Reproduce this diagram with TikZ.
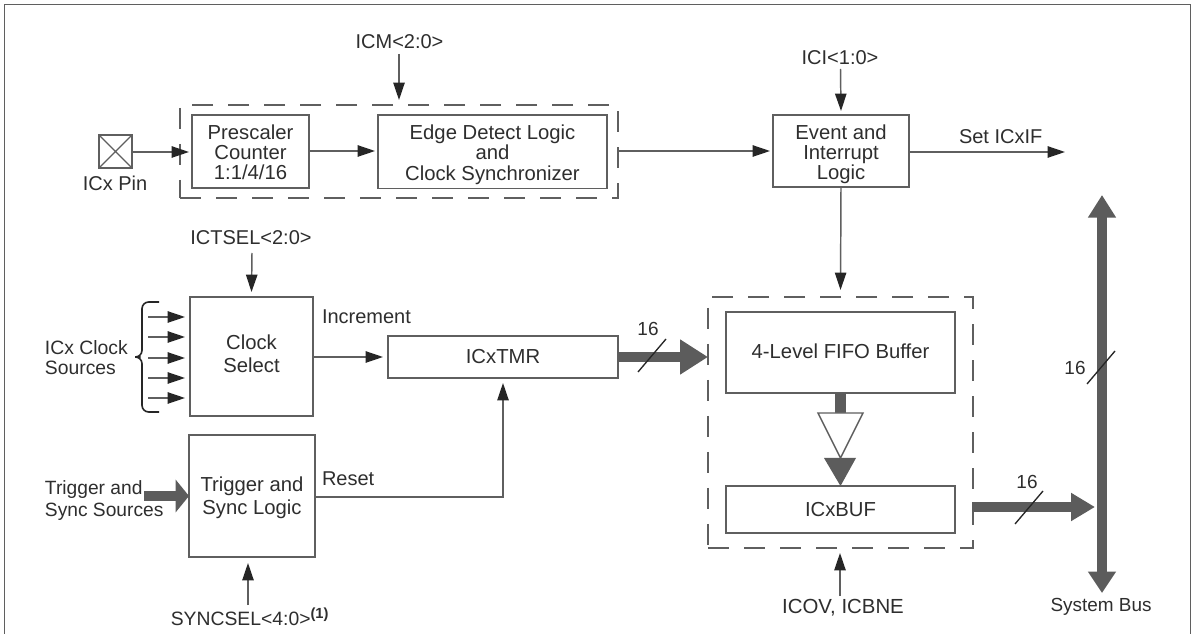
\documentclass[tikz,border=0pt]{standalone}
\usepackage{fontspec}
\setmainfont{Liberation Sans}
\usetikzlibrary{arrows.meta,calc}
\definecolor{ln}{HTML}{5F5F5F}
\definecolor{thickc}{HTML}{5C5C5C}
\definecolor{tx}{HTML}{2E2E2E}
\definecolor{hd}{HTML}{262626}
\tikzset{
  boxs/.style={draw=ln,line width=1.1pt,fill=white,inner sep=0pt,outer sep=0pt,align=center,text=tx,font=\fontsize{15.2}{15}\selectfont},
  tallbox/.style={boxs,font=\fontsize{15.2}{17}\selectfont},
  dashbox/.style={draw=ln,line width=1.1pt,inner sep=0pt,outer sep=0pt,dash pattern=on 15.5pt off 11.5pt},
  lbl/.style={text=tx,inner sep=0pt,outer sep=0pt,align=center,font=\fontsize{15}{16}\selectfont},
  lbll/.style={lbl,align=left,anchor=west},
  arr/.style={draw=ln,line width=1.1pt,-{Stealth[length=13pt,width=8.5pt,inset=0pt,color=hd]}},
  bigarr/.style={draw=thickc,line width=8.2pt},
  slash/.style={draw=hd,line width=1pt},
}
\newcommand{\nbx}[7][boxs]{%
  \pgfmathsetmacro\bxw{(#5-#3)*0.75}%
  \pgfmathsetmacro\bxh{(#6-#4)*0.75}%
  \node[#1,minimum width=\bxw pt,minimum height=\bxh pt] (#2) at ({(#3+#5)/2},{(#4+#6)/2}) {#7};%
}
\newcommand{\shifted}[2]{\raisebox{#1}[0pt][0pt]{\begin{tabular}{@{}c@{}}#2\end{tabular}}}
\begin{document}
\begin{tikzpicture}[x=0.75pt,y=-0.75pt]
\useasboundingbox (0,0) rectangle (1193,634);
\fill[white] (0,0) rectangle (1193,634);
% frame
\coordinate (fa) at (4.5,634); \coordinate (fb) at (4.5,4.5);
\coordinate (fc) at (1190.5,4.5); \coordinate (fd) at (1190.5,634);
\draw[draw=ln,line width=1.3pt] (fa)--(fb)--(fc)--(fd);
% dashed groups
\nbx[dashbox]{dashA}{180}{105}{618}{198}{}
\nbx[dashbox]{dashB}{708}{297}{973}{548}{}
% boxes
\nbx{pin}{99}{135}{132}{168}{}
\draw[draw=ln,line width=1pt] (pin.north west)--(pin.south east) (pin.north east)--(pin.south west);
\nbx{pre}{192}{115}{309}{188}{\shifted{-6.3pt}{Prescaler\\Counter\\1:1/4/16}}
\nbx{edge}{378}{115}{607}{188.5}{\shifted{-6.3pt}{Edge Detect Logic\\and\\Clock Synchronizer}}
\nbx{event}{773}{115}{909}{187}{\shifted{-6.8pt}{Event and\\Interrupt\\Logic}}
\nbx[tallbox]{clk}{190}{297}{313}{416}{\shifted{-3.7pt}{Clock\\Select}}
\nbx[tallbox]{trig}{189}{435}{315}{557}{\shifted{-5.2pt}{Trigger and\\Sync Logic}}
\nbx{tmr}{388}{336}{618}{378}{\raisebox{1.5pt}{ICxTMR}}
\nbx{fifo}{726}{312}{955}{393}{\raisebox{2.5pt}{4-Level FIFO Buffer}}
\nbx{buf}{726}{486}{955}{533}{ICxBUF}
% labels
\node[lbl] (lpin) at (115,183) {ICx Pin};
\node[lbl] (licm) at (399.5,42) {ICM<2:0>};
\node[lbl] (lici) at (840,58) {ICI<1:0>};
\node[lbl] (lsel) at (251,238) {ICTSEL<2:0>};
\node[lbll] (lset) at (959,137) {Set ICxIF};
\node[lbll] (linc) at (322,317) {Increment};
\node[lbll] (lres) at (322,479) {Reset};
\node[lbll,font=\fontsize{14.5}{15}\selectfont] (lclk) at (45,358) {ICx Clock\\Sources};
\node[lbll,font=\fontsize{14.4}{16.5}\selectfont] (ltrg) at (45,501) {Trigger and\\Sync Sources};
\node[lbl,font=\fontsize{14.5}{16}\selectfont] (lsync) at (250,617) {SYNCSEL<4:0>$^{\textbf{\fontsize{11}{11}\selectfont(1)}}$};
\node[lbl,font=\fontsize{15.3}{16}\selectfont] (lcov) at (843,608) {ICOV, ICBNE};
\node[lbl,font=\fontsize{14.2}{15}\selectfont] (lbus) at (1101,607) {System Bus};
\node[lbl,font=\fontsize{14.2}{15}\selectfont] (l16a) at (648,329) {16};
\node[lbl,font=\fontsize{14.2}{15}\selectfont] (l16b) at (1027,482) {16};
\node[lbl,font=\fontsize{14.2}{15}\selectfont] (l16c) at (1075,368) {16};
% thin connectors
\coordinate (tipPin) at (189,152);
\draw[arr] (pin.east |- tipPin) -- (tipPin);
\coordinate (tipEdge) at (375,151);
\draw[arr] (pre.east |- tipEdge) -- (tipEdge);
\coordinate (icmE) at (399,54);
\draw[arr] (icmE) -- ($(dashA.north)+(0,-5)$);
\coordinate (iciE) at (840.5,69);
\draw[arr] (iciE) -- ($(event.north)+(0,-4)$);
\coordinate (tipEvent) at (770,151);
\draw[arr] (dashA.east |- tipEvent) -- (tipEvent);
\coordinate (setE) at (1065,152);
\draw[arr] (event.east |- setE) -- (setE);
\draw[arr] (event.south) -- ($(dashB.north)+(0,-7)$);
\coordinate (selE) at (252,253);
\draw[arr] (selE) -- ($(clk.north)+(0,-5)$);
\coordinate (tipClk) at (383,357);
\draw[arr] (clk.east |- tipClk) -- (tipClk);
\coordinate (corner) at (503,497);
\draw[arr] (trig.east |- corner) -- (corner) -- (503,383);
\coordinate (syncE) at (248,605);
\draw[arr] (syncE) -- (248,563);
\coordinate (covE) at (840,596);
\draw[arr] (covE) -- (840,553);
% clock source arrows
\foreach \yy [count=\i] in {317,337,358,378,398}{
  \coordinate (cs\i) at (148,\yy);
  \coordinate (ct\i) at (185,\yy);
  \draw[arr] (cs\i) -- (ct\i);
}
% brace
\coordinate (brT) at (159,302); \coordinate (brB) at (159,412); \coordinate (brP) at (134,357);
\draw[draw=hd,line width=1.2pt,rounded corners=5pt] (brT) -- (142,302) -- (142,357) -- (brP) -- (142,357) -- (142,412) -- (brB);
% thick arrows
\coordinate (trgS) at (144,496);
\draw[bigarr,-{Stealth[length=10pt,width=24pt,inset=0pt,color=thickc]}] (trgS) -- (trig.west |- trgS);
\draw[bigarr,-{Stealth[length=21pt,width=25pt,inset=0pt,color=thickc]}] (tmr.east) -- (dashB.west |- tmr.east);
\coordinate (obS) at (972,507); \coordinate (obE) at (1095,507);
\draw[bigarr,-{Stealth[length=18pt,width=20pt,inset=0pt,color=thickc]}] (obS) -- (obE);
% system bus
\coordinate (busT) at (1102,195); \coordinate (busB) at (1102,593);
\draw[bigarr,{Stealth[length=17pt,width=20pt,inset=0pt,color=thickc]}-{Stealth[length=16pt,width=20pt,inset=0pt,color=thickc]}] (busT) -- (busB);
% fifo -> buf
\coordinate (triL) at (818,413); \coordinate (triR) at (863,413); \coordinate (triA) at (840.5,458);
\draw[draw=thickc,line width=8pt] (fifo.south) -- (840.5,413);
\fill[thickc] (824,458) -- (856,458) -- (buf.north) -- cycle;
\draw[draw=ln,line width=1.1pt,fill=white] (triL) -- (triR) -- (triA) -- cycle;
% bus slashes
\coordinate (s1a) at (638,372); \coordinate (s1b) at (666,339);
\draw[slash] (s1a) -- (s1b);
\coordinate (s2a) at (1015,524); \coordinate (s2b) at (1043,491);
\draw[slash] (s2a) -- (s2b);
\coordinate (s3a) at (1087,384); \coordinate (s3b) at (1115,351);
\draw[slash] (s3a) -- (s3b);
\end{tikzpicture}
\end{document}
